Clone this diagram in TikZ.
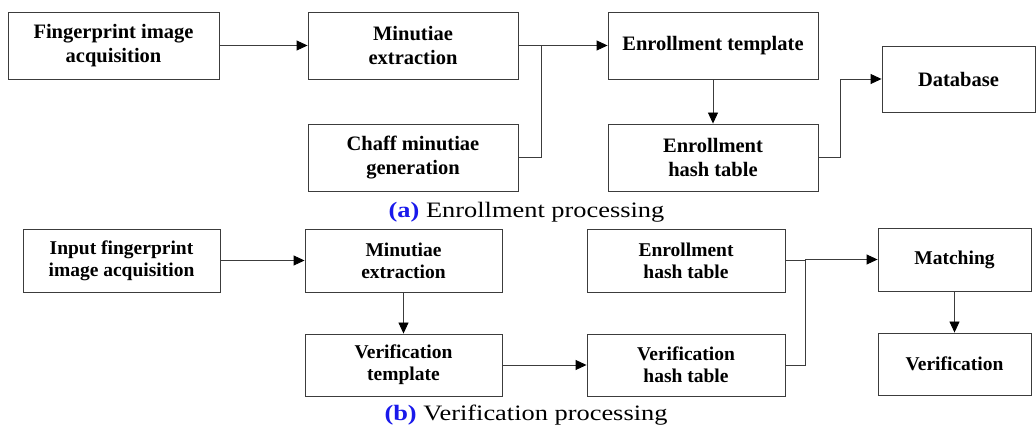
\documentclass[tikz,border=0pt]{standalone}
\usepackage{fontspec}
\setmainfont{Liberation Serif}[BoldFont={Liberation Serif Bold}]
\usetikzlibrary{arrows.meta}
\definecolor{capblue}{RGB}{25,25,235}
\definecolor{edgegray}{RGB}{60,60,60}
\tikzset{
  box/.style={draw=edgegray, line width=0.9pt, inner sep=0pt, align=center, anchor=center},
  topbox/.style={box, minimum height=67pt, font=\bfseries\fontsize{20.5}{24.5}\selectfont},
  botbox/.style={box, minimum height=63pt, font=\bfseries\fontsize{19.5}{22}\selectfont},
  conn/.style={draw=edgegray, line width=0.9pt},
  arr/.style={conn, -{Triangle[length=11pt,width=10pt,fill=black,color=black]}},
  captxt/.style={inner sep=0pt, anchor=base, font=\fontsize{22}{26}\selectfont}
}
\begin{document}
\begin{tikzpicture}[x=1pt,y=-1pt]
\useasboundingbox (0,0) rectangle (1036,430);
% (a) enrollment
\node[topbox, minimum width=211pt] (fia) at (113.5,45.5) {Fingerprint image\\acquisition};
\node[topbox, minimum width=210pt] (me1) at (413,45.5) {Minutiae\\extraction};
\node[topbox, minimum width=210pt] (chaff) at (413,157.5) {Chaff minutiae\\generation};
\node[topbox, minimum width=210pt] (et) at (713,45.5) {Enrollment template};
\node[topbox, minimum width=210pt] (eht) at (713,157.5) {Enrollment\\hash table};
\node[topbox, minimum width=153pt, minimum height=66pt] (db) at (958.5,79) {Database};
\coordinate (j1) at (541,45.5);
\draw[arr] (fia.east) -- (me1.west);
\draw[arr] (me1.east) -- (et.west);
\draw[conn] (chaff.east) -| (j1);
\draw[arr] (et.south) -- (eht.north);
\draw[arr] (eht.east) -- ++(22,0) |- (db.west);
\node[captxt] (capa) at (526.5,218) {\scalebox{1.2}[1]{\textcolor{capblue}{\textbf{(a)}} Enrollment processing}};
% (b) verification
\node[botbox, minimum width=197pt] (ifia) at (121.5,260.5) {Input fingerprint\\image acquisition};
\node[botbox, minimum width=197pt] (me2) at (403.5,260.5) {Minutiae\\extraction};
\node[botbox, minimum width=197pt, minimum height=62pt] (vt) at (403.5,365) {Verification\\template};
\node[botbox, minimum width=198pt] (eht2) at (686,260.5) {Enrollment\\hash table};
\node[botbox, minimum width=198pt, minimum height=62pt] (vht) at (686,365) {Verification\\hash table};
\node[botbox, minimum width=153pt] (match) at (954.5,259.5) {Matching};
\node[botbox, minimum width=153pt, minimum height=62pt] (ver) at (954.5,364) {Verification};
\coordinate (j2) at (805,260.5);
\draw[arr] (ifia.east) -- (me2.west);
\draw[arr] (me2.south) -- (vt.north);
\draw[arr] (vt.east) -- (vht.west);
\draw[conn] (eht2.east) -- (j2);
\draw[arr] (vht.east) -- ++(20,0) |- (match.west);
\draw[arr] (match.south) -- (ver.north);
\node[captxt] (capb) at (526,420) {\scalebox{1.2}[1]{\textcolor{capblue}{\textbf{(b)}} Verification processing}};
\end{tikzpicture}
\end{document}
